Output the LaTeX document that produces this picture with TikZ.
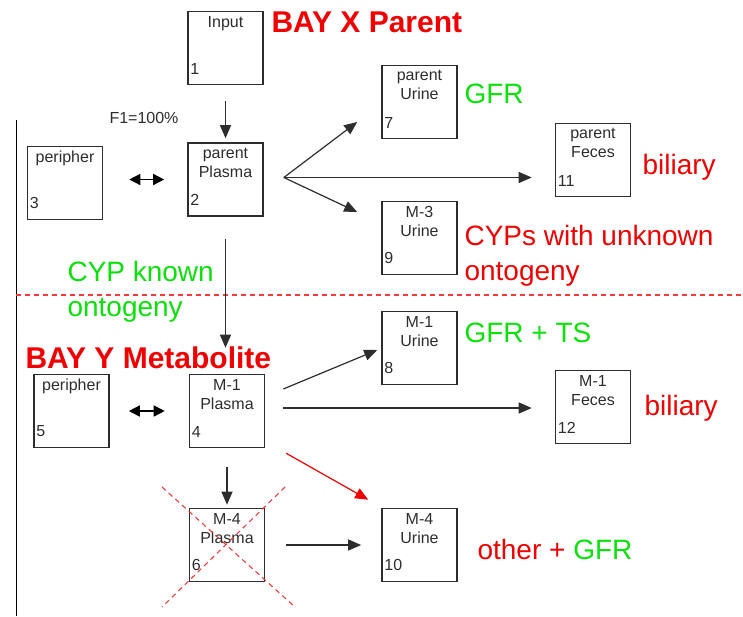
\documentclass[tikz,border=0pt]{standalone}
\usepackage{fontspec}
\setmainfont{Liberation Sans}
\usetikzlibrary{arrows.meta,positioning}
\definecolor{boxline}{RGB}{45,45,45}
\definecolor{lblred}{RGB}{240,0,0}
\definecolor{lblgreen}{RGB}{10,225,10}
\definecolor{cutred}{RGB}{245,60,60}

\begin{document}
\begin{tikzpicture}[x=1pt,y=-1pt,
    box/.style={draw=boxline, line width=1.6pt, minimum width=75pt, minimum height=73pt, inner sep=0pt},
    boxtext/.style={anchor=north, align=center, text=boxline, font=\fontsize{16}{19}\selectfont, yshift=-2pt},
    boxnum/.style={anchor=south west, text=boxline, font=\fontsize{16}{18}\selectfont, inner sep=2pt, xshift=1pt, yshift=9pt},
    flow/.style={-{Triangle[length=13pt,width=11pt]}, line width=1.2pt, draw=boxline},
    exchange/.style={{Triangle[length=11pt,width=11pt]}-{Triangle[length=11pt,width=11pt]}, line width=1.5pt},
    cut/.style={draw=cutred, line width=1.1pt, dash pattern=on 5pt off 4pt},
    note/.style={anchor=west, align=left, font=\fontsize{28}{35}\selectfont},
    title/.style={anchor=west, text=lblred, font=\fontsize{30}{34}\selectfont\bfseries}]
  \useasboundingbox (0,0) rectangle (743,616);

  \draw[line width=0.8pt] (16,120) -- (16,616);
  \draw[cut] (16,295) -- (743,295);

  \node[box, label={[boxtext]north:Input},             label={[boxnum]south west:1}]  (I1)  at (225.5,48)  {};
  \node[box, label={[boxtext]north:{parent\\Plasma}},  label={[boxnum]south west:2}]  (P2)  at (225.5,179.5) {};
  \node[box, label={[boxtext]north:peripher},          label={[boxnum]south west:3}]  (R3)  at (65,183)    {};
  \node[box, label={[boxtext]north:{parent\\Urine}},   label={[boxnum]south west:7}]  (U7)  at (419.5,102) {};
  \node[box, label={[boxtext]north:{parent\\Feces}},   label={[boxnum]south west:11}] (F11) at (593,160)   {};
  \node[box, label={[boxtext]north:{M-3\\Urine}},      label={[boxnum]south west:9}]  (U9)  at (419.5,238) {};
  \node[box, label={[boxtext]north:{M-1\\Urine}},      label={[boxnum]south west:8}]  (U8)  at (419.5,348) {};
  \node[box, label={[boxtext]north:{M-1\\Plasma}},     label={[boxnum]south west:4}]  (P4)  at (227,411)   {};
  \node[box, label={[boxtext]north:peripher},          label={[boxnum]south west:5}]  (R5)  at (71.5,411)  {};
  \node[box, label={[boxtext]north:{M-1\\Feces}},      label={[boxnum]south west:12}] (F12) at (593,407)   {};
  \node[box, label={[boxtext]north:{M-4\\Plasma}},     label={[boxnum]south west:6}]  (P6)  at (227,545)   {};
  \node[box, label={[boxtext]north:{M-4\\Urine}},      label={[boxnum]south west:10}] (U10) at (419.5,545) {};

  \coordinate (fanP) at ([xshift=20pt,yshift=2pt]P2.east);
  \coordinate (fanM) at ([xshift=18pt,yshift=3pt]P4.east);

  \draw[flow, shorten <=16pt, shorten >=4pt] (I1.south) -- (I1.south |- P2.north);
  \draw[exchange, shorten <=26pt, shorten >=23pt] (R3.east |- P2.west) -- (P2.west);
  \draw[flow] (fanP) -- ([xshift=-24pt,yshift=-20pt]U7.west);
  \draw[flow, shorten >=23pt] (fanP) -- (fanP -| F11.west);
  \draw[flow] (fanP) -- ([xshift=-24pt,yshift=26pt]U9.west);
  \draw[flow, shorten <=22pt, shorten >=26pt] (P2.south) -- (P2.south |- P4.north);

  \draw[exchange, shorten <=19pt, shorten >=24pt] (R5.east |- P4.west) -- (P4.west);
  \draw[flow] ([xshift=18pt,yshift=22pt]P4.east) -- ([xshift=-4pt,yshift=-2pt]U8.west);
  \draw[flow, shorten >=23pt] (fanM) -- (fanM -| F12.west);
  \draw[flow, shorten <=19pt, shorten >=3pt] (P4.south) -- (P4.south |- P6.north);
  \draw[flow, draw=lblred, fill=lblred] ([xshift=21pt,yshift=-5pt]P4.south east) -- ([xshift=-13pt,yshift=8pt]U10.north west);
  \draw[flow, shorten <=21pt, shorten >=20pt] (P6.east) -- (P6.east -| U10.west);

  \draw[cut] ([shift={(-65,-58)}]P6.center) -- ([shift={(68,62)}]P6.center);
  \draw[cut] ([shift={(58,-58)}]P6.center) -- ([shift={(-65,62)}]P6.center);

  \node[title] (tX) at (268,22) {BAY X Parent};
  \node[anchor=west, text=boxline, font=\fontsize{16}{18}\selectfont] (F1) at (106,118) {F1=100\%};
  \node[note, text=lblgreen] (gfr7)  at (461,94)  {GFR};
  \node[note, text=lblred]   (bil11) at (639,167) {biliary};
  \node[note, text=lblred]   (cyp9)  at (461,256) {CYPs with unknown\\ontogeny};
  \node[note, text=lblgreen] (cypk)  at (64,292)  {CYP known\\ontogeny};
  \node[title] (tY) at (22,358) {BAY Y Metabolite};
  \node[note, text=lblgreen] (gfr8)  at (461,333) {GFR + TS};
  \node[note, text=lblred]   (bil12) at (641,408) {biliary};
  \node[note, text=lblred]   (oth10) at (474,549) {other + \textcolor{lblgreen}{GFR}};
\end{tikzpicture}
\end{document}
